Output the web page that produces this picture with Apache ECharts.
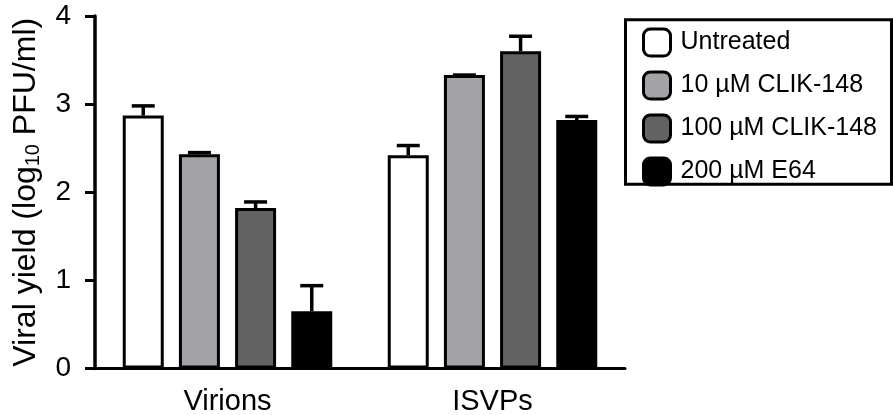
<!DOCTYPE html>
<html>
<head>
<meta charset="utf-8">
<script src="https://cdn.jsdelivr.net/npm/echarts@6/dist/echarts.min.js"></script>
<style>
  html, body { margin: 0; padding: 0; background: #fff; }
  #chart { width: 893px; height: 415px; }
</style>
</head>
<body>
<div id="chart"></div>
<script>
// Viral yield per particle type and treatment (log10 PFU/ml), mean and upper error
const categories = ['Virions', 'ISVPs'];
const treatments = ['Untreated', '10 µM CLIK-148', '100 µM CLIK-148', '200 µM E64'];
const untreated = [2.87, 2.42];
const clik10 = [2.43, 3.33];
const clik100 = [1.82, 3.60];
const e64 = [0.65, 2.82];
const untreatedErr = [0.11, 0.11];
const clik10Err = [0.02, 0.0];
const clik100Err = [0.07, 0.17];
const e64Err = [0.29, 0.04];
const yMin = 0, yMax = 4, yStep = 1;

const values = [untreated, clik10, clik100, e64];
const errors = [untreatedErr, clik10Err, clik100Err, e64Err];
const fills = ['#ffffff', '#a3a2a7', '#636363', '#000000'];
const FONT = "'Liberation Sans', Arial, sans-serif";
const BAR_W = 41, BAR_GAP = '37%';

const barSeries = treatments.map((name, i) => ({
  name: name,
  type: 'bar',
  barWidth: BAR_W,
  barGap: BAR_GAP,
  data: values[i],
  itemStyle: { color: fills[i], borderColor: '#000', borderWidth: 3 },
  emphasis: { disabled: true },
  z: 2
}));

// one point per bar: [category index, treatment index, mean, error]
const errData = [];
categories.forEach((c, ci) => {
  treatments.forEach((t, ti) => {
    errData.push([ci, ti, values[ti][ci], errors[ti][ci]]);
  });
});

const errSeries = {
  name: 'sem',
  type: 'custom',
  z: 3,
  silent: true,
  data: errData,
  encode: { x: 0, y: [2, 3] },
  renderItem: function (params, api) {
    const ci = api.value(0), ti = api.value(1);
    const mean = api.value(2), err = api.value(3);
    const layout = api.barLayout({ count: treatments.length, barWidth: BAR_W, barGap: BAR_GAP });
    const base = api.coord([ci, mean]);
    const top = api.coord([ci, mean + err]);
    const x = base[0] + layout[ti].offsetCenter;
    const capHalf = 11.5;
    const st = { stroke: '#000', lineWidth: 3.5, lineCap: 'butt' };
    return {
      type: 'group',
      children: [
        { type: 'line', shape: { x1: x, y1: base[1], x2: x, y2: top[1] }, style: st },
        { type: 'line', shape: { x1: x - capHalf, y1: top[1], x2: x + capHalf, y2: top[1] }, style: st }
      ]
    };
  }
};

const chart = echarts.init(document.getElementById('chart'), null, { renderer: 'canvas' });
chart.setOption({
  animation: false,
  backgroundColor: '#fff',
  textStyle: { fontFamily: FONT },
  grid: { left: 95, right: 268, top: 16, bottom: 46.5, containLabel: false, outerBoundsMode: 'none' },
  xAxis: {
    type: 'category',
    data: categories,
    axisLine: { lineStyle: { color: '#000', width: 3 } },
    axisTick: { alignWithLabel: true, length: 8, lineStyle: { color: '#000', width: 3 } },
    axisLabel: { color: '#000', fontSize: 29, fontFamily: FONT, margin: 19 },
    splitLine: { show: false }
  },
  yAxis: {
    type: 'value',
    min: yMin, max: yMax, interval: yStep,
    axisLine: { show: true, lineStyle: { color: '#000', width: 3.5 } },
    axisTick: { show: true, length: 10, lineStyle: { color: '#000', width: 3 } },
    axisLabel: { color: '#000', fontSize: 28, fontFamily: FONT, margin: 24 },
    splitLine: { show: false },
    name: '{a|Viral yield (log}{s|10}{a| PFU/ml)}',
    nameLocation: 'middle',
    nameGap: 52,
    nameTextStyle: {
      color: '#000',
      fontFamily: FONT,
      rich: {
        a: { fontSize: 32, fontFamily: FONT, color: '#000', lineHeight: 34 },
        s: { fontSize: 20, fontFamily: FONT, color: '#000', lineHeight: 15, verticalAlign: 'bottom' }
      }
    }
  },
  legend: {
    orient: 'vertical',
    left: 642,
    top: 27.5,
    padding: 0,
    itemWidth: 27,
    itemHeight: 27,
    itemGap: 13,
    icon: 'roundRect',
    data: treatments,
    selectedMode: false,
    itemStyle: { borderColor: '#000', borderWidth: 3 },
    textStyle: { color: '#000', fontSize: 25, fontFamily: FONT, padding: [0, 0, 0, 5] }
  },
  graphic: [{
    type: 'rect',
    shape: { x: 625.5, y: 19.8, width: 266, height: 164.5 },
    style: { fill: 'none', stroke: '#000', lineWidth: 3 },
    z: 0
  }],
  series: barSeries.concat([errSeries])
});
</script>
</body>
</html>
